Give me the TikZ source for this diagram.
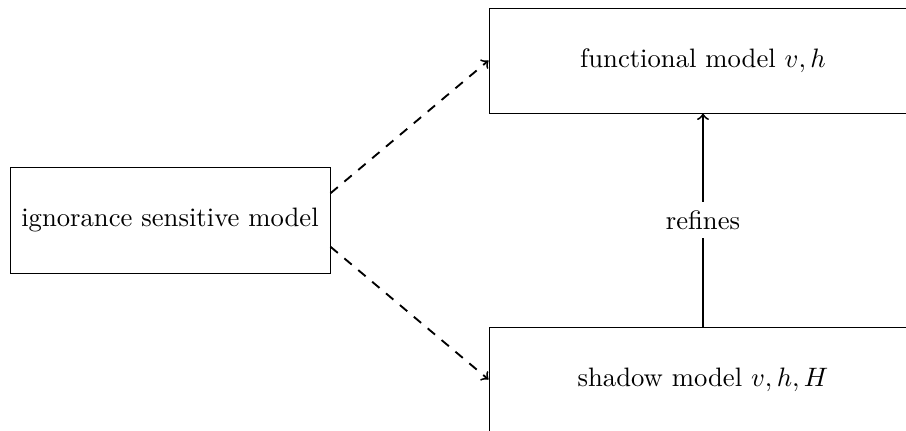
\documentclass[tikz,border=0pt]{standalone}
\usetikzlibrary{calc}
\begin{document}
\begin{tikzpicture}[x=0.375pt,y=-0.375pt,
  modelbox/.style={draw, line width=0.35pt, inner sep=0pt, align=center},
  link/.style={line width=0.7pt, ->, >=to},
  derived/.style={link, dash pattern=on 3.6pt off 3.2pt}]
  \useasboundingbox (0,0) rectangle (906,430);
  \clip (0,0) rectangle (906,430);
  % the three models
  \node[modelbox, minimum width=120pt, minimum height=39.75pt] (L) at (170,220) {ignorance sensitive model};
  \node[modelbox, minimum width=160.5pt, minimum height=39.4pt] (T) at (703,60.5) {functional model $v,h$};
  \node[modelbox, minimum width=160.5pt, minimum height=39.4pt] (B) at (703,379.5) {shadow model $v,h,H$};
  % dashed derivations
  \draw[derived] ($(L.east)!0.5!(L.north east)$) -- (T.west);
  \draw[derived] ($(L.east)!0.5!(L.south east)$) -- (B.west);
  % refinement
  \draw[link] (B.north) -- node[fill=white, inner sep=3pt] {refines} (T.south);
\end{tikzpicture}
\end{document}
